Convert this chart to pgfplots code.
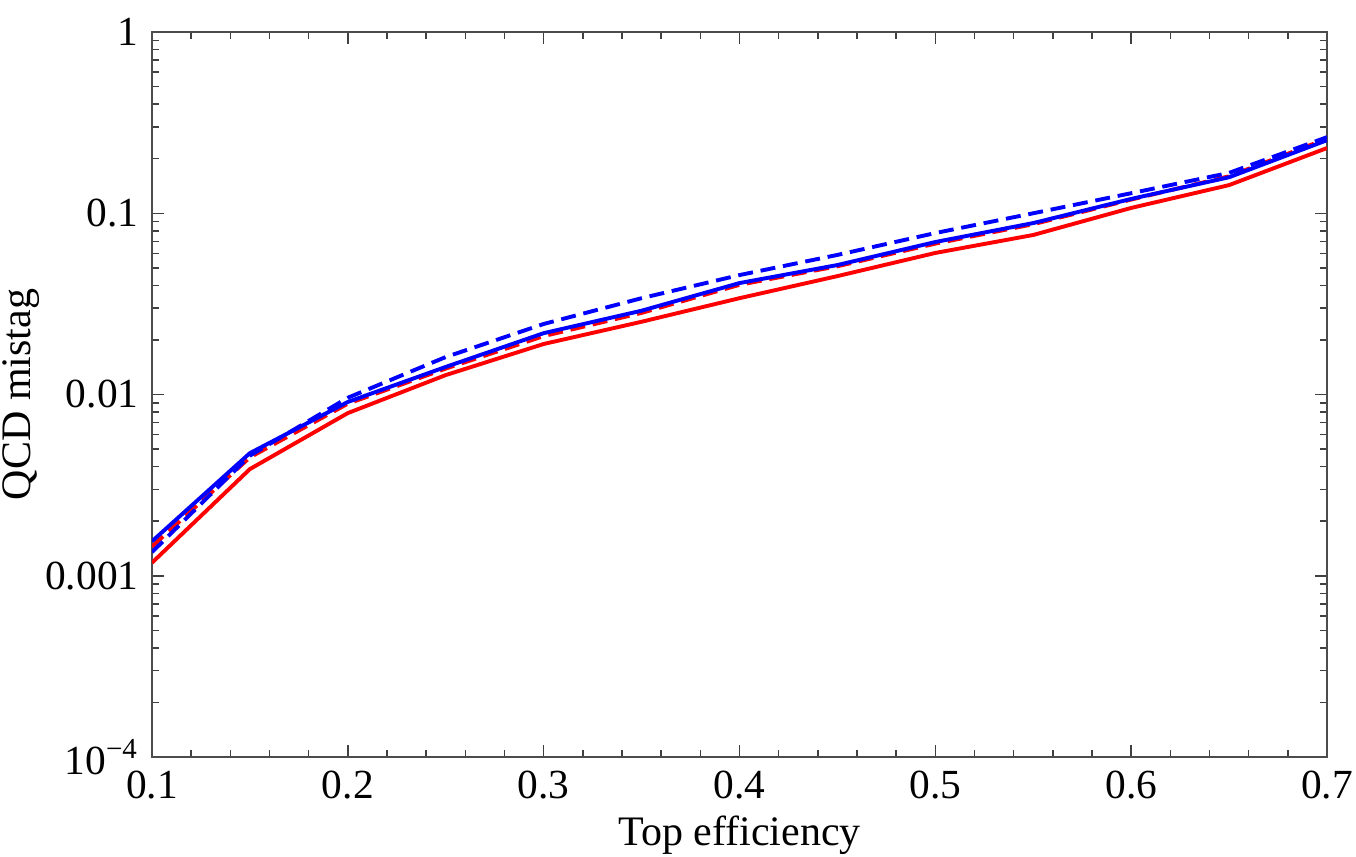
\documentclass[border=0pt]{standalone}
\usepackage{fontspec}
\setmainfont{Liberation Serif}
\usepackage{pgfplots}
\pgfplotsset{compat=1.18}
\usetikzlibrary{calc}

\begin{document}
\begin{tikzpicture}
\begin{axis}[
  scale only axis,
  width=391.67pt,
  height=241.67pt,
  ymode=log,
  xmin=0.1, xmax=0.7,
  ymin=1e-4, ymax=1,
  xtick={0.1,0.2,0.3,0.4,0.5,0.6,0.7},
  xticklabels={0.1,0.2,0.3,0.4,0.5,0.6,0.7},
  minor x tick num=4,
  ytick={1e-4,1e-3,1e-2,1e-1,1},
  yticklabels={10\textsuperscript{−4},0.001,0.01,0.1,1},
  tick align=inside,
  major tick length=4pt,
  minor tick length=2.4pt,
  every tick/.style={black!75, line width=0.5pt},
  axis line style={black!70, line width=0.7pt},
  tick label style={font=\fontsize{13.8}{15}\selectfont},
  label style={font=\fontsize{14}{16}\selectfont},
  xticklabel style={yshift=-1pt},
  yticklabel style={xshift=-1pt},
  xlabel={Top efficiency},
  ylabel={QCD mistag},
  xlabel style={yshift=1pt},
  ylabel style={yshift=-5pt},
  every axis plot/.append style={line width=1.3pt, mark=none},
]
\coordinate (ll) at (rel axis cs:0,0);
\coordinate (ur) at (rel axis cs:1,1);
% red solid
\addplot[red] coordinates {
  (0.10, 0.00118) (0.15, 0.00388) (0.20, 0.0079) (0.25, 0.0128)
  (0.30, 0.0190) (0.35, 0.0252) (0.40, 0.0340) (0.45, 0.0450)
  (0.50, 0.0604) (0.55, 0.0759) (0.60, 0.107) (0.65, 0.143)
  (0.70, 0.229)
};
% red dashed
\addplot[red, dash pattern=on 5pt off 2.6pt] coordinates {
  (0.10, 0.00145) (0.15, 0.0045) (0.20, 0.0089) (0.25, 0.0139)
  (0.30, 0.0210) (0.35, 0.0282) (0.40, 0.0403) (0.45, 0.0510)
  (0.50, 0.0680) (0.55, 0.0870) (0.60, 0.119) (0.65, 0.160)
  (0.70, 0.258)
};
% blue solid
\addplot[blue] coordinates {
  (0.10, 0.00155) (0.15, 0.00475) (0.20, 0.0091) (0.25, 0.0142)
  (0.30, 0.0218) (0.35, 0.0290) (0.40, 0.0412) (0.45, 0.0518)
  (0.50, 0.0694) (0.55, 0.0883) (0.60, 0.120) (0.65, 0.158)
  (0.70, 0.253)
};
% blue dashed
\addplot[blue, dash pattern=on 5pt off 2.6pt] coordinates {
  (0.10, 0.00135) (0.15, 0.0046) (0.20, 0.0096) (0.25, 0.0161)
  (0.30, 0.0245) (0.35, 0.0340) (0.40, 0.0456) (0.45, 0.0589)
  (0.50, 0.0778) (0.55, 0.100) (0.60, 0.129) (0.65, 0.167)
  (0.70, 0.263)
};
\end{axis}
\pgfresetboundingbox
\useasboundingbox ($(ll)+(-50.67pt,-33pt)$) rectangle ($(ur)+(9.67pt,10.67pt)$);
\end{tikzpicture}
\end{document}
